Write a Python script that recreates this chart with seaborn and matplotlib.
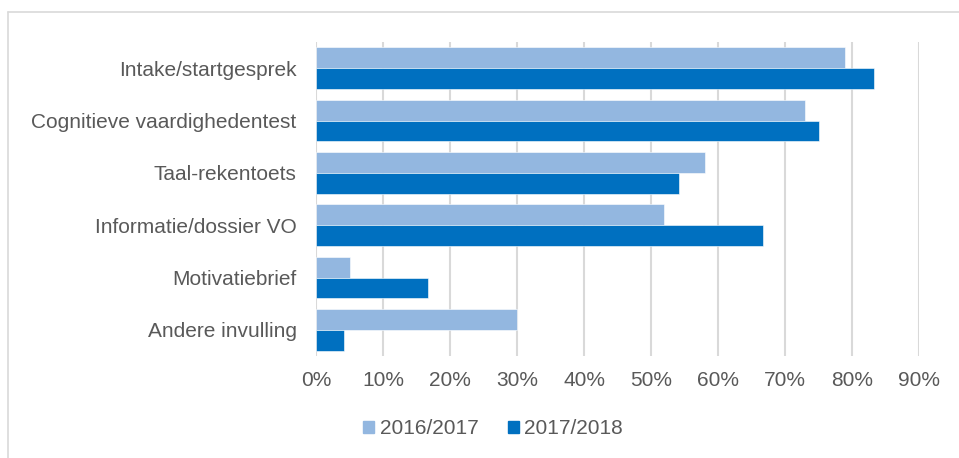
import matplotlib.pyplot as plt
import pandas as pd
import seaborn as sns
from matplotlib.lines import Line2D
from matplotlib.ticker import PercentFormatter

# Data
categories = ['Intake/startgesprek', 'Cognitieve vaardighedentest', 'Taal-rekentoets',
              'Informatie/dossier VO', 'Motivatiebrief', 'Andere invulling']
y2016 = [79.0, 73.0, 58.0, 52.0, 5.0, 30.0]
y2017 = [83.3, 75.0, 54.2, 66.7, 16.7, 4.2]
years = ['2016/2017', '2017/2018']
colors = ['#93B7E0', '#0070C0']

df = pd.DataFrame({
    'category': categories * 2,
    'value': y2016 + y2017,
    'year': [years[0]] * len(categories) + [years[1]] * len(categories),
})

sns.set_style('white')
plt.rcParams['font.family'] = ['Liberation Sans', 'DejaVu Sans']

fig = plt.figure(figsize=(9.59, 4.58), dpi=100)
ax = fig.add_axes([316 / 959, 1 - 356 / 458, (919 - 316) / 959, (356 - 42) / 458])

sns.barplot(data=df, x='value', y='category', hue='year', orient='h',
            palette=colors, saturation=1, width=0.79, ax=ax, legend=False,
            edgecolor='white', linewidth=0.4)

ax.set_xlim(0, 90)
ax.set_ylim(5.5, -0.5)
ax.set_xticks(range(0, 91, 10))
ax.xaxis.set_major_formatter(PercentFormatter(decimals=0))
ax.set_xlabel('')
ax.set_ylabel('')
ax.grid(axis='x', color='#D9D9D9', linewidth=1.5)
ax.set_axisbelow(True)
for s in ['top', 'right', 'bottom', 'left']:
    ax.spines[s].set_visible(False)
ax.tick_params(axis='both', length=0, labelsize=15, colors='#595959')
ax.tick_params(axis='x', pad=11)
ax.tick_params(axis='y', pad=14)

# Legend
handles = [plt.Rectangle((0, 0), 1, 1, color=c) for c in colors]
fig.legend(handles, years, loc='center', bbox_to_anchor=(493 / 959, 1 - 429 / 458),
           ncol=2, frameon=False, fontsize=15, labelcolor='#595959',
           handlelength=0.55, handleheight=0.55, handletextpad=0.25, columnspacing=1.4)

# Chart border (cropped at right and bottom)
fig.add_artist(Line2D([8 / 959, 1.01], [1 - 12 / 458, 1 - 12 / 458],
                      transform=fig.transFigure, color='#D9D9D9', linewidth=1.2))
fig.add_artist(Line2D([8 / 959, 8 / 959], [-0.01, 1 - 12 / 458],
                      transform=fig.transFigure, color='#D9D9D9', linewidth=1.2))

fig.savefig('out.png', dpi=100)
